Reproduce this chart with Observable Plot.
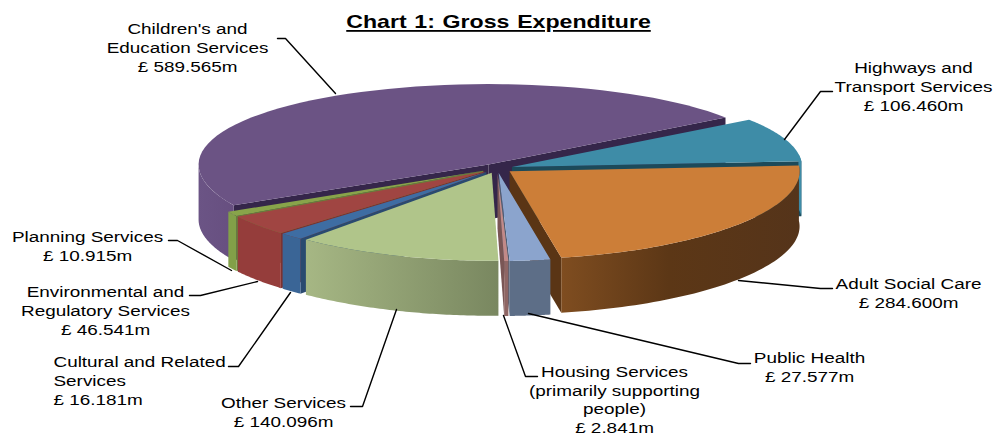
<!DOCTYPE html>
<html>
<head>
<meta charset="utf-8">
<script src="https://cdn.jsdelivr.net/npm/d3@7"></script>
<script src="https://cdn.jsdelivr.net/npm/@observablehq/plot@0.6"></script>
<style>
  html, body { margin: 0; padding: 0; background: #fff; }
  svg { display: block; }
</style>
</head>
<body>
<div id="chart"></div>
<script>
// Gross expenditure by service, £ million, in clockwise pie order.
const services = [
  "Children's and\nEducation Services",
  "Highways and\nTransport Services",
  "Adult Social Care",
  "Public Health",
  "Housing Services\n(primarily supporting\npeople)",
  "Other Services",
  "Cultural and Related\nServices",
  "Environmental and\nRegulatory Services",
  "Planning Services"
];
const amounts = [589.565, 106.46, 284.6, 27.577, 2.841, 140.096, 16.181, 46.541, 10.915];

const topColors = ["#6b5384", "#3e8ca7", "#cc7e38", "#8ba4cd", "#c28a88", "#b0c58a", "#3e6da3", "#a04542", "#88a44a"];
const wallColors = ["url(#wall0)", "#3e8ca7", "url(#wall2)", "#5d6e87", "#8f6664", "url(#wall5)", "#3a6596", "#953d3b", "#82a048"];
const faceColors = ["#35264a", "#1c4a5a", "#5a3515", "#4e5d72", "#7a5655", "#7c8a5e", "#2a4a70", "#7d3230", "#6a8038"];

// Back-to-front painting order of the slices.
const paintOrder = [0, 1, 2, 8, 7, 6, 5, 3, 4];

// Pie placement on the page and its projection settings.
const W = 994, H = 436;
const cx = 496.5, cy = 168, rx = 290, ry = 84;
const perspective = 0.04, depth = 0.655, explode = 0.055, startDeg = 241.5;

const px = (x) => (x - cx) / rx;
const py = (y) => (y - cy) / ry;
const rad = Math.PI / 180;

const arcs = d3.pie().sort(null).startAngle(startDeg * rad).endAngle((startDeg + 360) * rad)(amounts);

// Foreshortening: the far side of the disc is squeezed vertically.
function project(u, v, drop = 0) {
  const s = 1 / (1 - perspective * v);
  return {x: u, y: v * s + drop};
}

function sliceShapes(i) {
  const {startAngle: a0, endAngle: a1} = arcs[i];
  const mid = (a0 + a1) / 2;
  const hu = explode * Math.sin(mid), hv = -explode * Math.cos(mid);
  const at = (t, drop = 0) => project(hu + Math.sin(t), hv - Math.cos(t), drop);
  const hub = (drop = 0) => project(hu, hv, drop);
  const steps = (from, to) => d3.range(0, 61).map((k) => from + (to - from) * k / 60);
  const shapes = [];

  // Radial faces that look toward the viewer.
  if (Math.cos(a0 - Math.PI / 2) < 0) shapes.push({points: [hub(), at(a0), at(a0, depth), hub(depth)], fill: faceColors[i]});
  if (Math.cos(a1 + Math.PI / 2) < 0) shapes.push({points: [hub(), at(a1), at(a1, depth), hub(depth)], fill: faceColors[i]});

  // Outer rim: only its front part can be seen, out to the left silhouette.
  const rimFrom = Math.max(a0, 81 * rad), rimTo = Math.min(a1, 270 * rad);
  const rimFrom2 = Math.max(a0, (81 + 360) * rad), rimTo2 = Math.min(a1, (270 + 360) * rad);
  for (const [f, t] of [[rimFrom, rimTo], [rimFrom2, rimTo2]]) {
    if (t > f) {
      const s = steps(f, t);
      shapes.push({points: [...s.map((a) => at(a)), ...s.slice().reverse().map((a) => at(a, depth))], fill: wallColors[i]});
    }
  }

  // Top surface.
  shapes.push({points: [hub(), ...steps(a0, a1).map((a) => at(a))], fill: topColors[i]});
  return shapes;
}

const pieMarks = paintOrder.flatMap(sliceShapes).map((s) =>
  Plot.line(s.points, {x: "x", y: "y", curve: "linear-closed", fill: s.fill, stroke: "none"})
);

// Wall shading runs left to right across each rim.
function wallGradients() {
  const defs = d3.create("svg:defs");
  const grads = {
    wall0: [["0%", "#6b5485"], ["100%", "#674f80"]],
    wall2: [["0%", "#7f4d20"], ["45%", "#5c3716"], ["100%", "#55341a"]],
    wall5: [["0%", "#a6b784"], ["100%", "#798760"]]
  };
  for (const [id, stops] of Object.entries(grads)) {
    const g = defs.append("linearGradient").attr("id", id);
    for (const [o, c] of stops) g.append("stop").attr("offset", o).attr("stop-color", c);
  }
  return defs.node();
}

// Label block placement: anchor x, first-line y, text anchor.
const labelPlaces = [
  [187, 28, "middle"], [913, 67, "middle"], [908, 283, "middle"],
  [809, 357, "middle"], [614, 370.5, "middle"], [283, 402, "middle"],
  [53, 361, "start"], [105, 291, "middle"], [87, 236, "middle"]
];
const fontSize = 15.5, lineHeight = 1.2;
const labels = services.map((name, i) => {
  const text = `${name}\n£ ${amounts[i].toFixed(3)}m`;
  const lineCount = text.split("\n").length;
  return {
    text,
    x: px(labelPlaces[i][0]),
    y: py(labelPlaces[i][1] + (lineCount - 1) * fontSize * lineHeight / 2),
    anchor: labelPlaces[i][2]
  };
});

// Leader lines from slice to label.
const leaderPaths = [
  [[335, 93], [285, 38], [277, 38]],
  [[784, 139], [820, 91], [832, 91]],
  [[738, 280], [820, 288], [832, 288]],
  [[528, 313], [738, 363], [750, 363]],
  [[503, 315], [525, 376], [537, 376]],
  [[396, 309], [362, 406], [350, 406]],
  [[290, 292], [238, 366], [228, 366]],
  [[257, 281], [200, 295], [189, 295]],
  [[231, 270], [177, 240], [168, 240]]
];
const leaderMarks = leaderPaths.map((path) =>
  Plot.line(path.map(([x, y]) => ({x: px(x), y: py(y)})), {x: "x", y: "y", stroke: "#000", strokeWidth: 1.4, curve: "linear"})
);

// Widen text horizontally around its anchor.
const stretch = (k, extra) => (index, scales, values, dimensions, context, next) => {
  const g = next(index, scales, values, dimensions, context);
  d3.select(g).selectAll("text").each(function () {
    const t = this.getAttribute("transform") || "";
    this.setAttribute("transform", `${t} scale(${k},1)`);
    if (extra) for (const [p, v] of Object.entries(extra)) this.style.setProperty(p, v);
  });
  return g;
};

const textFont = "Liberation Sans, Arial, sans-serif";
const labelMarks = ["middle", "start"].map((anchor) =>
  Plot.text(labels.filter((d) => d.anchor === anchor), {
    x: "x", y: "y", text: "text",
    textAnchor: anchor, lineAnchor: "middle",
    fontFamily: textFont, fontSize, lineHeight, fill: "#000",
    render: stretch(1.22)
  })
);

const chart = Plot.plot({
  width: W,
  height: H,
  margin: 0,
  x: {axis: null, domain: [px(0), px(W)], range: [0, W]},
  y: {axis: null, domain: [py(0), py(H)], range: [0, H]},
  style: {background: "#fff"},
  marks: [
    wallGradients,
    ...pieMarks,
    ...leaderMarks,
    ...labelMarks,
    Plot.text(["Chart 1: Gross Expenditure"], {
      x: px(498), y: py(22), text: (d) => d,
      fontFamily: textFont, fontWeight: "bold", fontSize: 18, fill: "#000",
      render: stretch(1.285, {"text-decoration": "underline", "word-spacing": "1px"})
    })
  ]
});
document.getElementById("chart").append(chart);
</script>
</body>
</html>
